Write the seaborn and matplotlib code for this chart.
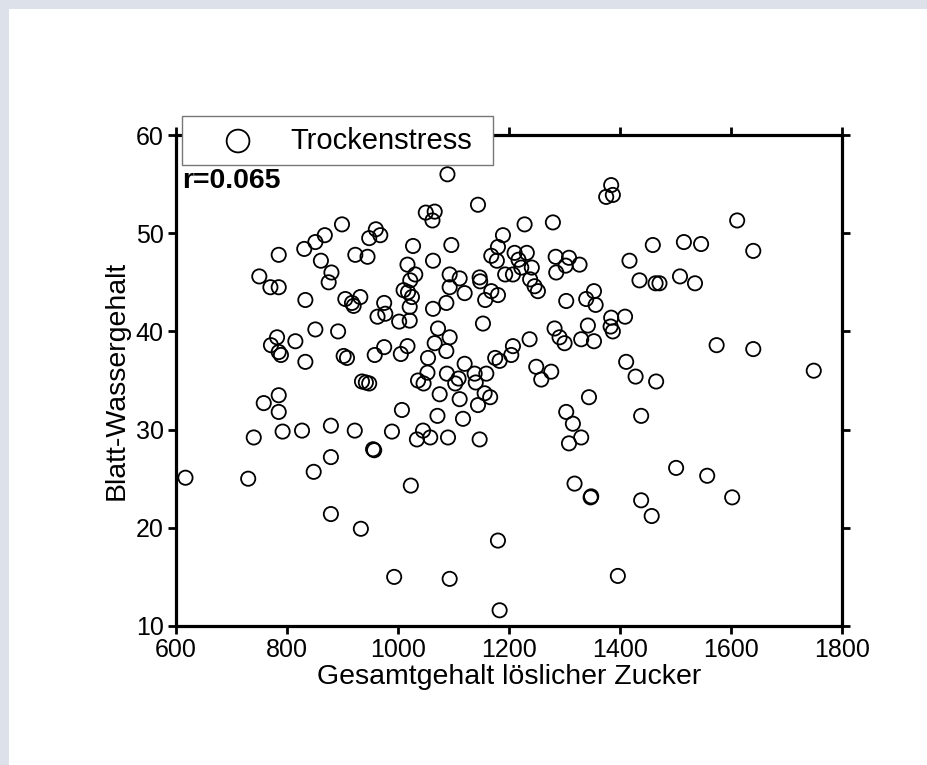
import matplotlib
matplotlib.use("Agg")
import matplotlib.pyplot as plt
from matplotlib.patches import Rectangle
import seaborn as sns
import pandas as pd

# values (Gesamtgehalt löslicher Zucker / Blatt-Wassergehalt)
zucker_links = [899, 960, 968, 948, 868, 851, 831, 785, 923, 945,
                861, 880, 875, 750, 770, 785, 833, 905, 917, 932,
                920, 975, 963, 977, 1002, 851, 892, 782, 771, 815,
                785, 789, 833, 902, 908, 958, 975, 1005, 1017, 935,
                942, 948]
wasser_links = [50.9, 50.4, 49.8, 49.5, 49.8, 49.1, 48.4, 47.8, 47.8, 47.6,
                47.2, 46.0, 45.0, 45.6, 44.5, 44.5, 43.2, 43.3, 42.9, 43.5,
                42.6, 42.9, 41.5, 41.8, 41.0, 40.2, 40.0, 39.4, 38.6, 39.0,
                37.9, 37.6, 36.9, 37.5, 37.3, 37.6, 38.4, 37.7, 38.5, 34.9,
                34.8, 34.7]

zucker_mitte = [1089, 1050, 1066, 1062, 1144, 1228, 1279, 1384, 1375, 1387,
                1027, 1096, 1189, 1180, 1168, 1178, 1210, 1232, 1217, 1222,
                1241, 1193, 1207, 1238, 1246, 1252, 1284, 1308, 1327, 1302,
                1285, 1063, 1017, 1031, 1022, 1010, 1018, 1025, 1021, 1021,
                1093, 1111, 1093, 1120, 1147, 1148, 1168, 1180, 1157, 1087,
                1063, 1153, 1303, 1353, 1339, 1356, 1072, 1093, 1066, 1087,
                1054, 1036, 1046, 1053, 1088, 1103, 1109, 1138, 1140, 1159,
                1120, 1207, 1204, 1175, 1183, 1237, 1282, 1291, 1300, 1342,
                1330, 1353, 1249, 1276, 1258, 1384, 1383, 1387, 1409, 1417,
                1411]
wasser_mitte = [56.0, 52.1, 52.2, 51.3, 52.9, 50.9, 51.1, 54.9, 53.7, 53.9,
                48.7, 48.8, 49.8, 48.6, 47.7, 47.2, 48.0, 48.0, 47.3, 46.5,
                46.5, 45.8, 45.8, 45.3, 44.6, 44.1, 47.6, 47.5, 46.8, 46.7,
                46.0, 47.2, 46.8, 45.8, 45.2, 44.2, 44.0, 43.5, 42.5, 41.1,
                45.8, 45.4, 44.5, 43.9, 45.5, 45.1, 44.1, 43.7, 43.2, 42.9,
                42.3, 40.8, 43.1, 44.1, 43.3, 42.7, 40.3, 39.4, 38.8, 38.0,
                37.3, 35.0, 34.7, 35.8, 35.7, 34.7, 35.2, 35.7, 34.8, 35.7,
                36.7, 38.5, 37.6, 37.3, 37.0, 39.2, 40.3, 39.4, 38.8, 40.6,
                39.2, 39.0, 36.4, 35.9, 35.1, 41.4, 40.5, 40.0, 41.5, 47.2,
                36.9]

zucker_rechts = [1611, 1459, 1515, 1546, 1640, 1435, 1464, 1471, 1508, 1535,
                 1574, 1640, 1428, 1465, 1749]
wasser_rechts = [51.3, 48.8, 49.1, 48.9, 48.2, 45.2, 44.9, 44.9, 45.6, 44.9,
                 38.6, 38.2, 35.4, 34.9, 36.0]

zucker_unten = [785, 758, 785, 740, 792, 827, 879, 922, 955, 957,
                879, 848, 617, 730, 879, 933, 993, 989, 1007,
                1071, 1075, 1111, 1117, 1144, 1156, 1166, 1045, 1034, 1058,
                1090, 1147, 1344, 1303, 1315, 1330, 1308, 1023, 1318, 1347,
                1348, 1180, 1093, 1396, 1183,
                1438, 1501, 1557, 1602, 1438, 1457]
wasser_unten = [33.5, 32.7, 31.8, 29.2, 29.8, 29.9, 30.4, 29.9, 28.0, 27.9,
                27.2, 25.7, 25.1, 25.0, 21.4, 19.9, 15.0, 29.8, 32.0,
                31.4, 33.6, 33.1, 31.1, 32.5, 33.7, 33.3, 29.9, 29.0, 29.2,
                29.2, 29.0, 33.3, 31.8, 30.6, 29.2, 28.6, 24.3, 24.5, 23.1,
                23.2, 18.7, 14.8, 15.1, 11.6,
                31.4, 26.1, 25.3, 23.1, 22.8, 21.2]

x_ticks = [600, 800, 1000, 1200, 1400, 1600, 1800]
y_ticks = [10, 20, 30, 40, 50, 60]

df = pd.DataFrame({
    "Zucker": zucker_links + zucker_mitte + zucker_rechts + zucker_unten,
    "Wasser": wasser_links + wasser_mitte + wasser_rechts + wasser_unten,
})

sns.set_style("ticks", {"axes.edgecolor": "black", "xtick.color": "black",
                        "ytick.color": "black", "text.color": "black",
                        "axes.labelcolor": "black"})
plt.rcParams["font.family"] = ["Liberation Sans", "DejaVu Sans"]

fig = plt.figure(figsize=(9.28, 7.65), dpi=100, facecolor="#dde1ea")
# white page with the grey strip on top and left
fig.add_artist(Rectangle((9 / 928, 0), 1, 1 - 9 / 765, transform=fig.transFigure,
                         facecolor="white", edgecolor="none", zorder=-1))

ax = fig.add_axes([0.1897, 0.1817, 0.7177, 0.6418])

sns.scatterplot(data=df, x="Zucker", y="Wasser", ax=ax, s=105,
                facecolor="none", edgecolor="black", linewidth=1.3,
                label="Trockenstress")

ax.set_xlim(600, 1800)
ax.set_ylim(10, 60)
ax.set_xticks(x_ticks)
ax.set_yticks(y_ticks)
ax.tick_params(which="both", direction="out", length=6, width=2,
               top=True, right=True, labelsize=18, pad=3)
for sp in ax.spines.values():
    sp.set_visible(True)
    sp.set_linewidth(2.3)

ax.set_xlabel("Gesamtgehalt löslicher Zucker", fontsize=20.5, labelpad=1)
ax.set_ylabel("Blatt-Wassergehalt", fontsize=20.5, labelpad=4)

ax.text(0.009, 0.906, "r=0.065", transform=ax.transAxes, fontsize=20.5,
        fontweight="bold", ha="left", va="center")

leg = ax.legend(loc="upper left", bbox_to_anchor=(0.009, 0.94, 0.467, 0.099),
                mode="expand", borderaxespad=0,
                frameon=True, fancybox=False, framealpha=1, edgecolor="#777777",
                fontsize=21, markerscale=1.6, handletextpad=0.25, borderpad=0.37,
                handlelength=3.1)
leg.get_frame().set_linewidth(1.0)

fig.savefig("out.png", dpi=100, facecolor=fig.get_facecolor())
